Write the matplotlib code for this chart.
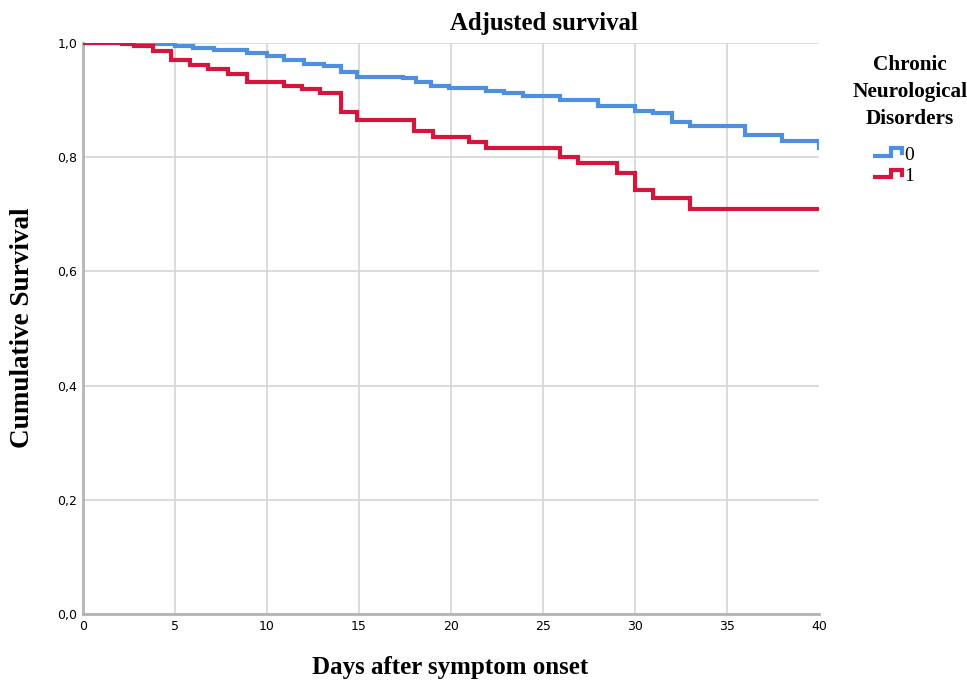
import matplotlib
matplotlib.use("Agg")
import matplotlib.pyplot as plt
from matplotlib.legend_handler import HandlerBase
from matplotlib.lines import Line2D
from matplotlib.ticker import FuncFormatter

# Step curves (day, survival), step changes after each time
days_0 = [0, 4.0, 5.0, 6.0, 7.1, 8.9, 10.0, 10.9, 12.0, 13.1, 14.0, 14.9, 17.4,
          18.1, 18.9, 19.9, 21.9, 22.9, 23.9, 25.9, 28.0, 30.0, 31.0, 32.0, 33.0,
          36.0, 38.0, 40.0]
surv_0 = [1.0, 0.998, 0.994, 0.991, 0.988, 0.983, 0.977, 0.971, 0.964, 0.960, 0.950,
          0.941, 0.938, 0.932, 0.925, 0.921, 0.916, 0.912, 0.907, 0.900, 0.890,
          0.881, 0.877, 0.861, 0.855, 0.839, 0.829, 0.816]

days_1 = [0, 2.1, 2.8, 3.8, 4.8, 5.8, 6.8, 7.9, 8.9, 10.9, 11.9, 12.9, 14.0, 14.9,
          18.0, 19.0, 21.0, 21.9, 25.9, 26.9, 29.0, 30.0, 31.0, 33.0, 40.0]
surv_1 = [1.0, 0.998, 0.995, 0.986, 0.970, 0.961, 0.954, 0.945, 0.931, 0.925, 0.919,
          0.913, 0.880, 0.865, 0.846, 0.836, 0.826, 0.816, 0.801, 0.790, 0.772,
          0.743, 0.729, 0.710, 0.710]

groups = ["0", "1"]
colors = ["#4f8fdf", "#d4153c"]
x_ticks = [0, 5, 10, 15, 20, 25, 30, 35, 40]
y_ticks = [0.0, 0.2, 0.4, 0.6, 0.8, 1.0]

SERIF = "Liberation Serif"


class StepHandler(HandlerBase):
    """Small step-shaped legend icon, like SPSS draws it."""
    def create_artists(self, legend, orig_handle, xdescent, ydescent,
                       width, height, fontsize, trans):
        x0 = -xdescent
        y0 = -ydescent
        xs = [x0, x0 + 0.6 * width, x0 + 0.6 * width, x0 + width, x0 + width]
        ys = [y0 + 0.3 * height, y0 + 0.3 * height, y0 + 0.85 * height,
              y0 + 0.85 * height, y0 + 0.5 * height]
        ln = Line2D(xs, ys, color=orig_handle.get_color(),
                    lw=orig_handle.get_linewidth(), transform=trans,
                    solid_joinstyle="miter")
        return [ln]


fig = plt.figure(figsize=(9.67, 6.83), dpi=100)
ax = fig.add_axes([0.0858, 0.101, 0.7612, 0.836])

handles = []
for d, s, c, g in [(days_0, surv_0, colors[0], groups[0]),
                   (days_1, surv_1, colors[1], groups[1])]:
    h, = ax.step(d, s, where="post", color=c, lw=3.0, label=g,
                 solid_joinstyle="miter", zorder=3)
    handles.append(h)

ax.set_xlim(0, 40)
ax.set_ylim(0, 1.0)
ax.set_xticks(x_ticks)
ax.set_yticks(y_ticks)
ax.yaxis.set_major_formatter(FuncFormatter(lambda v, p: f"{v:.1f}".replace(".", ",")))
ax.tick_params(length=0, labelsize=9, pad=4)
ax.grid(True, color="#d4d4d4", lw=1.2)
ax.set_axisbelow(True)
ax.get_xgridlines()[-1].set_visible(False)
for sp in ["top", "right"]:
    ax.spines[sp].set_visible(False)
for sp in ["left", "bottom"]:
    ax.spines[sp].set_color("#b4b4b4")
    ax.spines[sp].set_linewidth(2)

fig.text(0.5626, 0.966, "Adjusted survival", ha="center", va="center",
         family=SERIF, weight="bold", fontsize=17.8)
fig.text(0.466, 0.022, "Days after symptom onset", ha="center", va="center",
         family=SERIF, weight="bold", fontsize=18)
fig.text(0.023, 0.52, "Cumulative Survival", ha="center", va="center",
         rotation=90, family=SERIF, weight="bold", fontsize=19.5)

# legend title drawn on its own so its spacing can match
fig.text(0.941, 0.865, "Chronic\nNeurological\nDisorders", ha="center", va="center",
         multialignment="center", linespacing=1.45,
         family=SERIF, weight="bold", fontsize=15.3)
leg = fig.legend(handles=handles, labels=groups, loc="upper center",
                 bbox_to_anchor=(0.925, 0.800), frameon=False, borderpad=0,
                 prop={"family": SERIF, "size": 14},
                 handler_map={Line2D: StepHandler()},
                 handlelength=1.4, handletextpad=0.1, labelspacing=0.2)

fig.savefig("out.png", dpi=100)
